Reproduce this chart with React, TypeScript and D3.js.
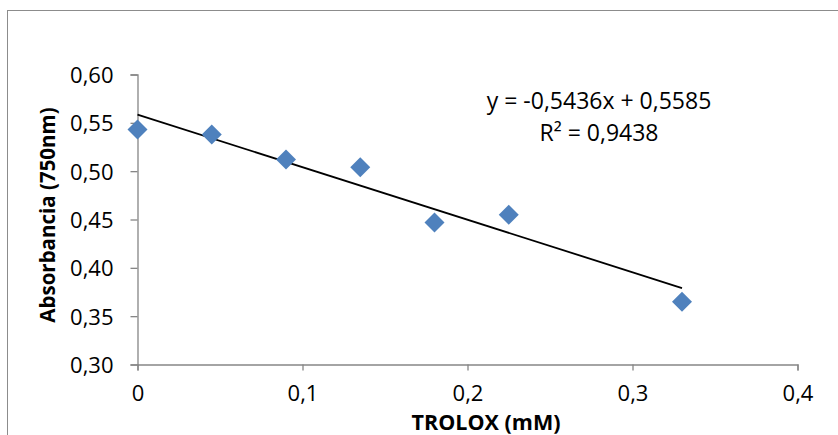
import React, { useEffect, useRef } from "react";
import * as d3 from "d3";

// Data
const trolox = [0, 0.045, 0.09, 0.135, 0.18, 0.225, 0.33];
const absorbance = [0.543, 0.538, 0.512, 0.504, 0.447, 0.455, 0.365];
const slope = -0.5436;
const intercept = 0.5585;
const xTicks = [0, 0.1, 0.2, 0.3, 0.4];
const yTicks = [0.3, 0.35, 0.4, 0.45, 0.5, 0.55, 0.6];

const W = 838;
const H = 435;
const FONT = "'Open Sans', sans-serif";

export default function App() {
  const ref = useRef<SVGSVGElement>(null);

  useEffect(() => {
    const svg = d3.select(ref.current);
    svg.selectAll("*").remove();

    // outer chart frame (cut off at right and bottom)
    svg.append("rect")
      .attr("x", 7.5).attr("y", 10.5)
      .attr("width", 900).attr("height", 500)
      .attr("fill", "none").attr("stroke", "#8c8c8c");

    const x = d3.scaleLinear().domain([0, 0.4]).range([137.5, 797.5]);
    const y = d3.scaleLinear().domain([0.3, 0.6]).range([364.5, 74.5]);

    const fmt = (n: number, d: number) => n.toFixed(d).replace(".", ",");

    // Axes
    const xAxis = svg.append("g")
      .attr("transform", "translate(0," + y(0.3) + ")")
      .call(d3.axisBottom(x).tickValues(xTicks).tickSize(6)
        .tickFormat((d) => (d === 0 ? "0" : fmt(+d, 1))));
    const yAxis = svg.append("g")
      .attr("transform", "translate(" + x(0) + ",0)")
      .call(d3.axisLeft(y).tickValues(yTicks).tickSize(7).tickPadding(17)
        .tickFormat((d) => fmt(+d, 2)));

    [xAxis, yAxis].forEach((a) => {
      a.select(".domain").attr("stroke", "#868686").attr("stroke-width", 1.3);
      a.selectAll(".tick line").attr("stroke", "#868686").attr("stroke-width", 1.3);
      a.selectAll(".tick text")
        .attr("fill", "#000")
        .style("font-family", FONT)
        .style("font-size", "22px");
    });
    xAxis.selectAll(".tick text").attr("dy", "0.71em").attr("y", 21);
    yAxis.selectAll(".tick text").attr("dy", "0.36em");

    // Axis titles
    svg.append("text")
      .attr("x", 486).attr("y", 430)
      .attr("text-anchor", "middle")
      .style("font-family", FONT).style("font-size", "21.5px").style("font-weight", "bold")
      .text("TROLOX (mM)");
    svg.append("text")
      .attr("transform", "translate(55,215) rotate(-90)")
      .attr("text-anchor", "middle")
      .style("font-family", FONT).style("font-size", "20.5px").style("font-weight", "bold")
      .text("Absorbancia (750nm)");

    // Linear trendline
    const xMax = d3.max(trolox) as number;
    svg.append("line")
      .attr("x1", x(0)).attr("y1", y(intercept))
      .attr("x2", x(xMax)).attr("y2", y(slope * xMax + intercept))
      .attr("stroke", "#000").attr("stroke-width", 1.8);

    // Points
    const sym = d3.symbol().type(d3.symbolSquare).size(200);
    svg.append("g").selectAll("path")
      .data(trolox)
      .enter().append("path")
      .attr("d", sym)
      .attr("transform", (d, i) => "translate(" + x(d) + "," + y(absorbance[i]) + ") rotate(45)")
      .attr("fill", "#4f81bd");

    // Equation label
    const eq = svg.append("text")
      .attr("text-anchor", "middle")
      .style("font-family", FONT).style("font-size", "23px")
      .attr("fill", "#000");
    eq.append("tspan").attr("x", 599).attr("y", 109).text("y = -0,5436x + 0,5585");
    eq.append("tspan").attr("x", 599).attr("y", 141).text("R² = 0,9438");
  }, []);

  return (
    <svg ref={ref} width={W} height={H} style={{ position: "absolute", left: 0, top: 0, background: "#fff" }} />
  );
}
